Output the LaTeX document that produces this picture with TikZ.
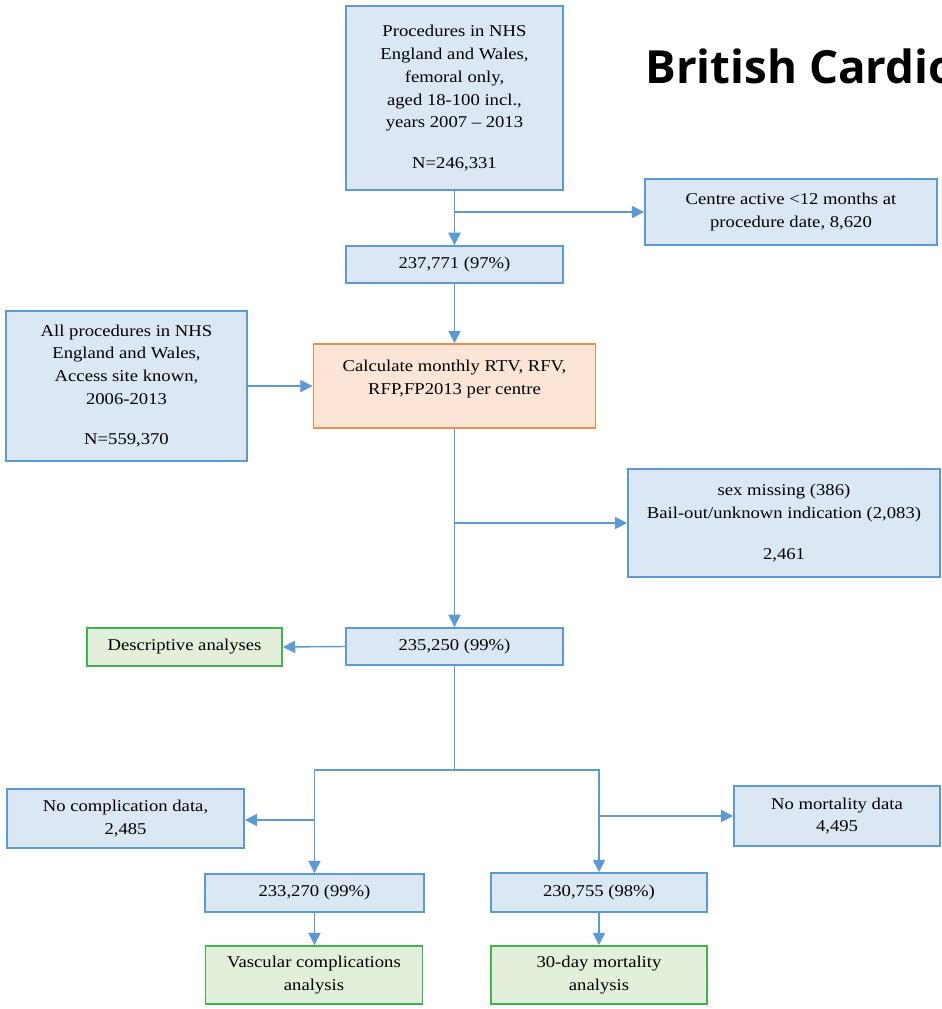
\documentclass[tikz,border=0pt]{standalone}
\usepackage{fontspec}
\setmainfont{Liberation Serif}[FakeStretch=1.13]
\newfontfamily\titlefont{Open Sans}
\usepackage{xcolor}
\usepackage{tikz}
\usetikzlibrary{positioning,calc,arrows.meta}

\definecolor{boxblue}{HTML}{DCE7F4}
\definecolor{lineblue}{HTML}{5B9BD5}
\definecolor{boxorange}{HTML}{FCE4D6}
\definecolor{lineorange}{HTML}{F08C4A}
\definecolor{boxgreen}{HTML}{E2EFDA}
\definecolor{linegreen}{HTML}{3DB54A}

\begin{document}
\begin{tikzpicture}[x=0.02cm, y=-0.02cm,
		box/.style={rectangle, draw=lineblue, fill=boxblue, line width=1.1pt, align=center, inner sep=2pt,
			font=\fontsize{9.4}{13}\selectfont},
		calcbox/.style={box, draw=lineorange, fill=boxorange},
		endbox/.style={box, draw=linegreen, fill=boxgreen},
		arr/.style={-{Stealth[inset=0pt, length=7pt, width=7pt]}, draw=lineblue, line width=0.8pt}]
		\useasboundingbox (0,0) rectangle (942,1009);
		\clip (0,0) rectangle (942,1009);
		
		\node [box, minimum width=4.34cm, minimum height=3.68cm] (all) at (454.5,98) {Procedures in NHS\\England and Wales,\\femoral only,\\aged 18-100 incl.,\\years 2007 -- 2013\\[10pt]N=246,331};
		\node [box, minimum width=5.84cm, minimum height=1.32cm] (young) at (791,212) {Centre active <12 months at\\procedure date, 8,620};
		\node [box, minimum width=4.34cm, minimum height=0.74cm] (n1) at (454.5,264.5) {237,771 (97\%)};
		
		\node [box, minimum width=4.82cm, minimum height=3cm] (site) at (126.5,386) {All procedures in NHS\\England and Wales,\\Access site known,\\2006-2013\\[10pt]N=559,370};
		\node [calcbox, minimum width=5.64cm, minimum height=1.68cm] (calc) at (454.5,386) {Calculate monthly RTV, RFV,\\RFP,FP2013 per centre\\[-2.8pt]\mbox{}};
		
		\node [box, minimum width=6.24cm, minimum height=2.16cm] (miss) at (784,523) {sex missing (386)\\Bail-out/unknown indication (2,083)\\[10pt]2,461};
		\node [box, minimum width=4.34cm, minimum height=0.74cm] (n2) at (454.5,646.5) {235,250 (99\%)};
		\node [endbox, minimum width=3.9cm, minimum height=0.76cm] (desc) at (184.5,647) {Descriptive analyses};
		
		\node [box, minimum width=4.74cm, minimum height=1.18cm] (nocomp) at (125.5,818.5) {No complication data,\\2,485};
		\node [box, minimum width=4.12cm, minimum height=1.2cm] (nomort) at (837,816) {No mortality data\\4,495};
		\node [box, minimum width=4.38cm, minimum height=0.76cm] (n3) at (314.5,893) {233,270 (99\%)};
		\node [box, minimum width=4.32cm, minimum height=0.78cm] (n4) at (599,892.5) {230,755 (98\%)};
		\node [endbox, minimum width=4.34cm, minimum height=1.16cm] (vasc) at (314,975) {Vascular complications\\analysis};
		\node [endbox, minimum width=4.32cm, minimum height=1.16cm] (mort) at (599,975) {30-day mortality\\analysis};
		
		\node [anchor=base west, inner sep=0pt, font=\titlefont\fontsize{26}{30}\selectfont\bfseries] (title) at (645,83) {British Cardio};
		
		% main column
		\coordinate (b1) at (all.south |- young.west);
		\draw[arr] (all.south)--(n1.north);
		\draw[arr] (b1)--(young.west);
		\draw[arr] (n1.south)--(calc.north);
		\draw[arr] (site.east)--(calc.west);
		\coordinate (b2) at (calc.south |- miss.west);
		\draw[arr] (calc.south)--(n2.north);
		\draw[arr] (b2)--(miss.west);
		\draw[arr] (n2.west)--(desc.east);
		
		% split into the two analyses
		\coordinate (s) at ($(n2.south)+(0,104)$);
		\draw[lineblue, line width=0.8pt] (n2.south)--(s);
		\draw[arr] (s)-|(n3.north);
		\draw[arr] (s)-|(n4.north);
		\coordinate (b3) at (n3.north |- 0,820);
		\coordinate (b4) at (n4.north |- nomort.west);
		\draw[arr] (b3)--(b3 -| nocomp.east);
		\draw[arr] (b4)--(nomort.west);
		\draw[arr] (n3.south)--(n3.south |- vasc.north);
		\draw[arr] (n4.south)--(n4.south |- mort.north);
	\end{tikzpicture}
\end{document}
